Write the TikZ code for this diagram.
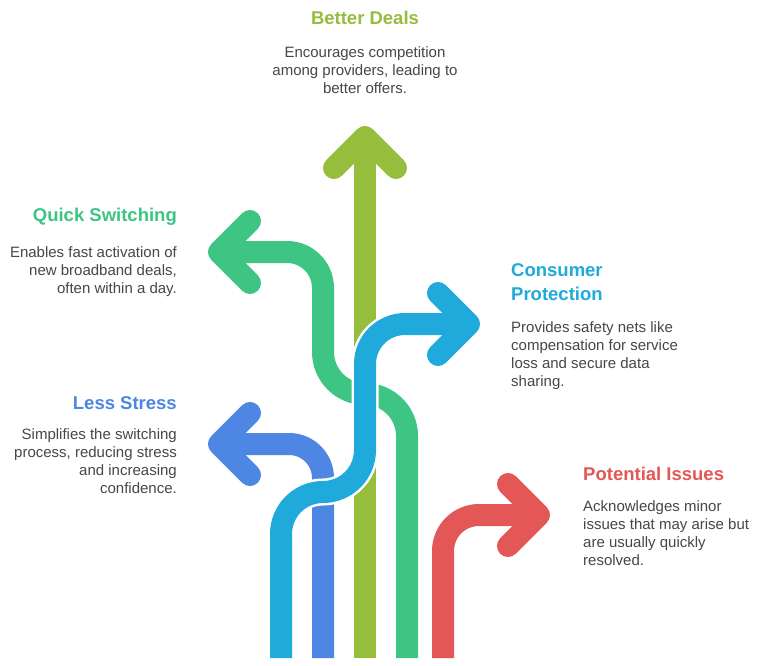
\documentclass[tikz,border=0pt]{standalone}
\usepackage{fontspec}
\setmainfont{Liberation Sans}
\definecolor{cOlive}{HTML}{96BD3B}
\definecolor{cGreen}{HTML}{3EC584}
\definecolor{cBlue}{HTML}{1FAADB}
\definecolor{cLess}{HTML}{4E86E3}
\definecolor{cRed}{HTML}{E35757}
\definecolor{cText}{HTML}{474747}
\tikzset{
  shaft/.style={line width=22pt, line cap=butt, line join=round},
  casing/.style={line width=27pt, white, line cap=butt},
  chev/.style={line width=22pt, line cap=round, line join=round},
  ttl/.style={inner sep=0pt, font=\bfseries\fontsize{18.5}{24}\selectfont},
  body/.style={inner sep=0pt, text=cText, font=\fontsize{15}{18}\selectfont},
}
\begin{document}
\begin{tikzpicture}[x=1pt,y=-1pt]
\useasboundingbox[fill=white] (0,0) rectangle (761,666);

% coordinates
\coordinate (oBase) at (365,658);
\coordinate (oTip) at (365,137);
\coordinate (gBase) at (407,658);
\coordinate (gTip) at (219,252);
\coordinate (lBase) at (323,658);
\coordinate (lTip) at (219,444);
\coordinate (bBase) at (281,658);
\coordinate (bTip) at (469,324);
\coordinate (rBase) at (443,658);
\coordinate (rTip) at (539,515);

% Better Deals (olive)
\draw[shaft, cOlive] (oBase) -- (oTip);
\draw[chev, cOlive] (334,168) -- (oTip) -- (396,168);

% Quick Switching (green)
\draw[shaft, cGreen] (gBase) -- (407,436) .. controls (407,412.8) and (388.2,394) .. (365,394)
  .. controls (341.8,394) and (323,375.2) .. (323,352) -- (323,288)
  .. controls (323,268.1) and (306.9,252) .. (287,252) -- (gTip);
\draw[chev, cGreen] (250,221) -- (gTip) -- (250,283);

% Less Stress (blue-violet)
\draw[shaft, cLess] (lBase) -- (323,478) .. controls (323,459.2) and (307.8,444) .. (289,444) -- (lTip);
\draw[chev, cLess] (250,413) -- (lTip) -- (250,475);

% Potential Issues (red)
\draw[shaft, cRed] (rBase) -- (443,551) .. controls (443,531.1) and (459.1,515) .. (479,515) -- (rTip);
\draw[chev, cRed] (508,484) -- (rTip) -- (508,546);

% Consumer Protection (blue), on top with white casing
\draw[casing] (281,650) -- (281,534) .. controls (281,510.8) and (299.8,492) .. (323,492)
  .. controls (346.2,492) and (365,473.2) .. (365,450) -- (365,364)
  .. controls (365,341.9) and (382.9,324) .. (405,324) -- (430,324);
\draw[shaft, cBlue] (bBase) -- (281,534) .. controls (281,510.8) and (299.8,492) .. (323,492)
  .. controls (346.2,492) and (365,473.2) .. (365,450) -- (365,364)
  .. controls (365,341.9) and (382.9,324) .. (405,324) -- (bTip);
\draw[chev, cBlue] (438,293) -- (bTip) -- (438,355);

% Texts (anchor base = baseline of the last line)
\node[ttl, text=cOlive, anchor=base] (bdT) at (365,25) {Better Deals};
\node[body, anchor=base, align=center] (bdB) at (365,94) {Encourages competition\\among providers, leading to\\better offers.};

\node[ttl, text=cGreen, anchor=base east] (qsT) at (177,222) {Quick Switching};
\node[body, anchor=base east, align=right] (qsB) at (177,293) {Enables fast activation of\\new broadband deals,\\often within a day.};

\node[ttl, text=cLess, anchor=base east] (lsT) at (177,409) {Less Stress};
\node[body, anchor=base east, align=right] (lsB) at (177,493) {Simplifies the switching\\process, reducing stress\\and increasing\\confidence.};

\node[ttl, text=cBlue, anchor=base west, align=left] (cpT) at (511,300) {Consumer\\Protection};
\node[body, anchor=base west, align=left] (cpB) at (511,386) {Provides safety nets like\\compensation for service\\loss and secure data\\sharing.};

\node[ttl, text=cRed, anchor=base west] (piT) at (583,480) {Potential Issues};
\node[body, anchor=base west, align=left] (piB) at (583,565) {Acknowledges minor\\issues that may arise but\\are usually quickly\\resolved.};
\end{tikzpicture}
\end{document}
